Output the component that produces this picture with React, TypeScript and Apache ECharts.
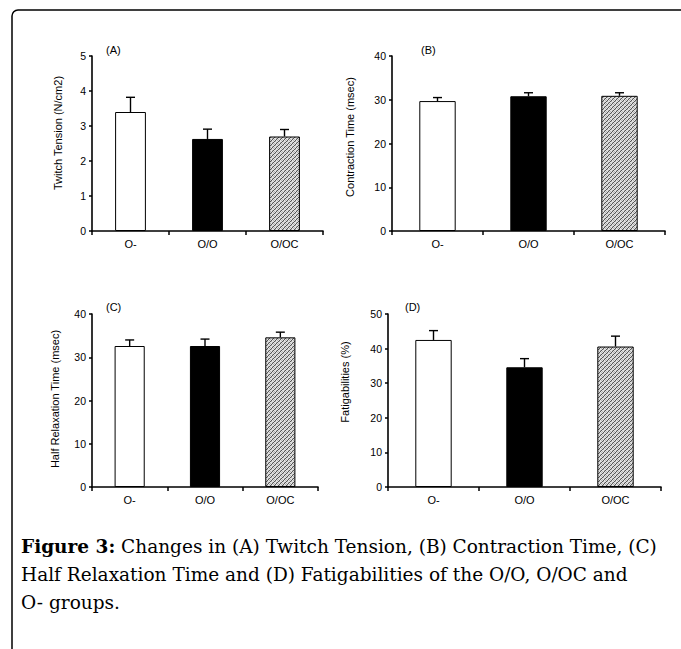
import React, { useEffect, useRef } from "react";
import * as echarts from "echarts";

const categories = ["O-", "O/O", "O/OC"];
const tensionMean = [3.4, 2.63, 2.7];
const tensionErr = [0.42, 0.28, 0.2];
const contractionMean = [29.7, 30.8, 30.9];
const contractionErr = [0.8, 0.8, 0.7];
const halfRelaxMean = [32.6, 32.6, 34.6];
const halfRelaxErr = [1.4, 1.6, 1.2];
const fatigueMean = [42.5, 34.6, 40.6];
const fatigueErr = [2.7, 2.5, 3.0];

const panelTitles = ["(A)", "(B)", "(C)", "(D)"];
const yNames = [
  "Twitch Tension (N/cm2)",
  "Contraction Time (msec)",
  "Half Relaxation Time (msec)",
  "Fatigabilities (%)",
];
const yMax = [5, 40, 40, 50];
const yInterval = [1, 10, 10, 10];
const captionLines = [
  "{b|Figure 3:} Changes in (A) Twitch Tension, (B) Contraction Time, (C)",
  "Half Relaxation Time and (D) Fatigabilities of the O/O, O/OC and",
  "O- groups.",
];

function makePattern() {
  const c = document.createElement("canvas");
  c.width = 4;
  c.height = 4;
  const ctx = c.getContext("2d")!;
  const L = "#e2e2e2", M = "#b4b4b4", D = "#555555";
  const grid = [
    [L, M, L, D],
    [L, L, D, M],
    [M, D, L, L],
    [D, L, M, L],
  ];
  for (let y = 0; y < 4; y++)
    for (let x = 0; x < 4; x++) {
      ctx.fillStyle = grid[y][x];
      ctx.fillRect(x, y, 1, 1);
    }
  return c;
}

export default function App() {
  const ref = useRef<HTMLDivElement>(null);
  useEffect(() => {
    if (!ref.current) return;
    const chart = echarts.init(ref.current, undefined, { renderer: "svg" });
    const pattern = makePattern();
    const hatch: any = { image: pattern, repeat: "repeat" };
    const fills: any[] = ["#ffffff", "#000000", hatch];

    const grids = [
      { left: 92, top: 56, width: 231, height: 175 },
      { left: 392, top: 56, width: 273, height: 175 },
      { left: 92, top: 314, width: 226, height: 173 },
      { left: 388, top: 314, width: 273, height: 173 },
    ];
    const means = [tensionMean, contractionMean, halfRelaxMean, fatigueMean];
    const errs = [tensionErr, contractionErr, halfRelaxErr, fatigueErr];
    const nameX = [58, 350, 55, 345];
    const nameY = [133, 137, 399, 382];
    const titlePos = [
      [106, 50],
      [421, 50],
      [106, 307],
      [405, 307],
    ];
    const font = "Liberation Sans, Arial, sans-serif";

    const xAxis: any[] = [];
    const yAxis: any[] = [];
    const series: any[] = [];
    const graphic: any[] = [];
    grids.forEach((g, i) => {
      xAxis.push({
        type: "category",
        gridIndex: i,
        data: categories,
        axisLine: { lineStyle: { color: "#000", width: 1.6 } },
        axisTick: { show: true, length: 4, interval: 0, lineStyle: { color: "#000", width: 1.5 } },
        axisLabel: { color: "#000", fontSize: 11, fontFamily: font, margin: 7 },
        splitLine: { show: false },
      });
      yAxis.push({
        type: "value",
        gridIndex: i,
        min: 0,
        max: yMax[i],
        interval: yInterval[i],
        axisLine: { show: true, lineStyle: { color: "#000", width: 1.6 } },
        axisTick: { show: true, length: 3, lineStyle: { color: "#000", width: 1.5 } },
        axisLabel: { color: "#000", fontSize: 10.5, fontFamily: font, margin: 6 },
        splitLine: { show: false },
      });
      series.push({
        type: "bar",
        xAxisIndex: i,
        yAxisIndex: i,
        barWidth: "40%",
        data: means[i].map((v, k) => ({
          value: v,
          itemStyle: { color: fills[k], borderColor: "#000", borderWidth: 1 },
        })),
      });
      series.push({
        type: "custom",
        xAxisIndex: i,
        yAxisIndex: i,
        z: 5,
        data: means[i].map((v, k) => [k, v, errs[i][k]]),
        renderItem: (params: any, api: any) => {
          const k = api.value(0);
          const v = api.value(1);
          const e = api.value(2);
          const base = api.coord([k, v]);
          const top = api.coord([k, v + e]);
          const hw = 4.5;
          return {
            type: "group",
            children: [
              {
                type: "line",
                shape: { x1: base[0], y1: base[1], x2: top[0], y2: top[1] },
                style: { stroke: "#000", lineWidth: 1.4 },
              },
              {
                type: "line",
                shape: { x1: top[0] - hw, y1: top[1], x2: top[0] + hw, y2: top[1] },
                style: { stroke: "#000", lineWidth: 1.4 },
              },
            ],
          };
        },
      });
      graphic.push({
        type: "text",
        x: nameX[i],
        y: nameY[i],
        rotation: Math.PI / 2,
        style: {
          text: yNames[i],
          fontSize: 11,
          fontFamily: font,
          fill: "#000",
          align: "center",
          verticalAlign: "middle",
        },
      });
      graphic.push({
        type: "text",
        x: titlePos[i][0],
        y: titlePos[i][1],
        style: {
          text: panelTitles[i],
          fontSize: 11,
          fontFamily: font,
          fill: "#000",
          align: "left",
          verticalAlign: "middle",
        },
      });
    });

    graphic.push({
      type: "rect",
      shape: { x: 12, y: 10, width: 720, height: 700, r: 6 },
      style: { fill: "none", stroke: "#000", lineWidth: 1.5 },
    });
    const capY = [546, 574, 602];
    captionLines.forEach((t, i) => {
      graphic.push({
        type: "text",
        x: 21,
        y: capY[i],
        style: {
          text: t,
          fontSize: 18.5,
          fontFamily: "DejaVu Serif, serif",
          fill: "#000",
          align: "left",
          verticalAlign: "middle",
          rich: { b: { fontSize: 18.5, fontFamily: "DejaVu Serif, serif", fontWeight: "bold", fill: "#000" } },
        },
      });
    });

    chart.setOption({
      animation: false,
      backgroundColor: "#fff",
      grid: grids.map((g) => ({ ...g, containLabel: false })),
      xAxis,
      yAxis,
      series,
      graphic,
    });
    return () => chart.dispose();
  }, []);
  return (
    <div
      ref={ref}
      style={{ position: "absolute", left: 0, top: 0, width: 681, height: 649 }}
    />
  );
}
